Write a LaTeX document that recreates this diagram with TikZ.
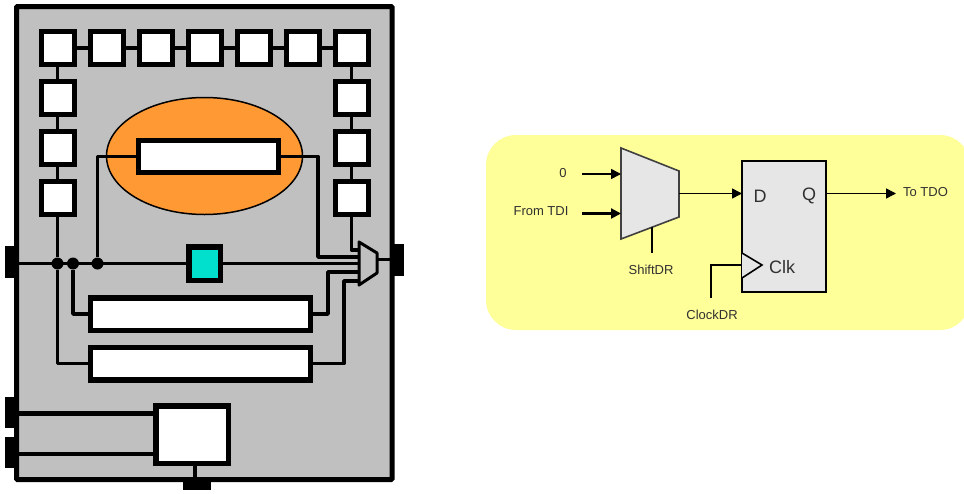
\documentclass[tikz,border=0pt]{standalone}
\usepackage{fontspec}
\setmainfont{Liberation Sans}
\usetikzlibrary{positioning,arrows.meta}
\definecolor{chipgray}{HTML}{C0C0C0}
\definecolor{coreorange}{HTML}{FF9933}
\definecolor{bypassteal}{HTML}{00E0CC}
\definecolor{panelyellow}{HTML}{FFFF99}
\definecolor{regfill}{HTML}{E6E6E6}
\definecolor{lbltext}{HTML}{303030}

\begin{document}
\begin{tikzpicture}[
  x=1pt, y=-1pt,
  node distance=17pt and 16pt,
  cell/.style={draw, line width=5pt, fill=white, minimum width=33pt, minimum height=33pt, inner sep=0pt, outer sep=0pt},
  longreg/.style={draw, line width=5.5pt, fill=white, minimum width=220pt, minimum height=32.5pt, inner sep=0pt, outer sep=0pt},
  pin/.style={fill=black, inner sep=0pt, outer sep=0pt, minimum width=#1},
  pin/.default={11pt},
  wire/.style={line width=3.4pt, line join=round},
  dot/.style={circle, fill=black, inner sep=0pt, minimum size=12pt},
  arr/.style={-{Triangle[length=10pt,width=10pt]}, line width=1.6pt},
  sig/.style={line width=1.6pt},
  lbl/.style={font=\fontsize{13}{14}\selectfont, text=lbltext, inner sep=0pt},
  big/.style={font=\fontsize{18}{20}\selectfont, text=lbltext, inner sep=0pt}
]
\useasboundingbox (0,0) rectangle (964,493);
\clip (0,0) rectangle (964,493);

% chip outline and pins
\node[draw, line width=5pt, fill=chipgray, rounded corners=1pt, minimum width=375.5pt, minimum height=473pt, inner sep=0pt, outer sep=0pt] (chip) at (204.25,243) {};
\node[pin, minimum height=32pt] (pinl) at (10.5,262) {};
\node[pin=12pt, minimum height=32pt] (pinr) at (398,260) {};
\node[pin, minimum height=31pt] (pina) at (10.5,412.5) {};
\node[pin, minimum height=31pt] (pinb) at (10.5,452.5) {};
\node[pin=28pt, minimum height=10pt] (pinc) at (197,485) {};

% boundary cells, top row
\node[cell] (t1) at (57.5,48) {};
\node[cell, right=of t1] (t2) {};
\node[cell, right=of t2] (t3) {};
\node[cell, right=of t3] (t4) {};
\node[cell, right=of t4] (t5) {};
\node[cell, right=of t5] (t6) {};
\node[cell, right=of t6] (t7) {};

% boundary cells, sides
\node[cell, below=of t1] (l1) {};
\node[cell, below=of l1] (l2) {};
\node[cell, below=of l2] (l3) {};
\node[cell, below=of t7] (r1) {};
\node[cell, below=of r1] (r2) {};
\node[cell, below=of r2] (r3) {};

\draw[wire] (t1) -- (t2);
\draw[wire] (t2) -- (t3);
\draw[wire] (t3) -- (t4);
\draw[wire] (t4) -- (t5);
\draw[wire] (t5) -- (t6);
\draw[wire] (t6) -- (t7);
\draw[wire] (t1) -- (l1);
\draw[wire] (l1) -- (l2);
\draw[wire] (l2) -- (l3);
\draw[wire] (t7) -- (r1);
\draw[wire] (r1) -- (r2);
\draw[wire] (r2) -- (r3);

% core logic
\draw[line width=1.5pt, fill=coreorange] (204.5,156) ellipse [x radius=98pt, y radius=58.5pt];
\node[draw, line width=5pt, fill=white, minimum width=140pt, minimum height=32pt, inner sep=0pt, outer sep=0pt] (core) at (208.5,156.5) {};

% registers
\node[draw, line width=5.5pt, fill=bypassteal, minimum width=31.5pt, minimum height=33.5pt, inner sep=0pt, outer sep=0pt] (bypass) at (204.5,263.5) {};
\node[longreg] (reg1) at (200.5,314) {};
\node[longreg] (reg2) at (200.5,363.5) {};
\node[draw, line width=5.5pt, fill=white, minimum width=72.5pt, minimum height=57.5pt, inner sep=0pt, outer sep=0pt] (tap) at (192,434.5) {};

% output mux
\coordinate (ma) at (359,242);
\coordinate (mb) at (377,253);
\coordinate (mc) at (377,273);
\coordinate (md) at (359,285);
\coordinate (min1) at (359,250);
\coordinate (min2) at (359,257);
\coordinate (min3) at (359,263.5);
\coordinate (min4) at (359,272);
\coordinate (min5) at (359,281);
\coordinate (mout) at (377,259.5);

% chip wiring
\draw[wire] (pinl.east |- bypass.west) -- (bypass.west);
\draw[wire] (bypass.east) -- (min3);
\node[dot] (j1) at (57.5,263.5) {};
\node[dot] (j2) at (73,263.5) {};
\node[dot] (j3) at (97.5,263.5) {};
\draw[wire] (l3) -- (j1);
\draw[wire] (j1) |- (reg2.west);
\draw[wire] (j2) |- (reg1.west);
\draw[wire] (core.west) -| (j3);
\draw[wire] (core.east) -| (318,257) -- (min2);
\draw[wire] (r3) |- (min1);
\draw[wire] (reg1.east) -| (328,272) -- (min4);
\draw[wire] (reg2.east) -| (344,281) -- (min5);
\draw[line width=3pt, line join=round, fill=chipgray] (ma) -- (mb) -- (mc) -- (md) -- cycle;
\draw[wire] (mout) -- (pinr.west |- mout);
\draw[line width=5pt] (pina.east |- 0,413) -- (tap.west |- 0,413);
\draw[line width=3.5pt] (pinb.east |- 0,454) -- (tap.west |- 0,454);
\draw[line width=3.5pt] (tap.south -| 195,0) -- (pinc.north -| 195,0);

% yellow panel
\fill[panelyellow, rounded corners=30pt] (486,135) rectangle (970,330);

% scan cell
\draw[line width=1.6pt, draw=black!75, fill=regfill] (621,148) coordinate (ska) -- (679,171) coordinate (skb) -- (679,217) coordinate (skc) -- (621,239) coordinate (skd) -- cycle;
\node[draw, line width=2.2pt, fill=regfill, minimum width=84pt, minimum height=131pt, inner sep=0pt, outer sep=0pt] (ff) at (784,226.5) {};
\draw[sig, fill=regfill] (ff.west |- 0,253) coordinate (cka) -- (762,265) coordinate (ckb) -- (ff.west |- 0,278) coordinate (ckc);

\node[lbl] (zero) at (563,173) {0};
\node[lbl] (tdi) at (541,211) {From TDI};
\node[lbl] (shift) at (651,270) {ShiftDR};
\node[lbl] (clock) at (712,315) {ClockDR};
\node[lbl] (tdo) at (925.5,192) {To TDO};
\node[big] (dlbl) at (760,196) {D};
\node[big] (qlbl) at (809,196) {Q};
\node[big] (clbl) at (782,267) {Clk};

\coordinate (zin) at (582,174);
\coordinate (tin) at (582,213.5);
\coordinate (sel) at (652,227);
\coordinate (selend) at (652,253);
\coordinate (ckin) at (711,298);
\coordinate (toout) at (896,193.5);
\coordinate (ckm) at (742,265);

\draw[arr] (zin) -- (621,174);
\draw[arr, line width=2.2pt] (tin) -- (621,213.5);
\draw[arr] (679,193.5) -- (ff.west |- 0,193.5);
\draw[arr] (ff.east |- toout) -- (toout);
\draw[sig] (sel) -- (selend);
\draw[sig] (ckm) -| (ckin);
\end{tikzpicture}
\end{document}
